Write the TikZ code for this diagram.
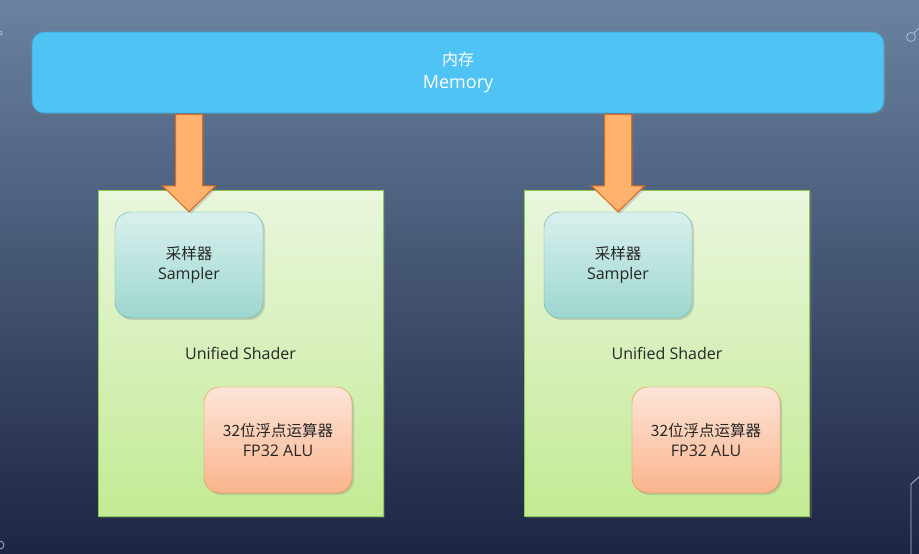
\documentclass[tikz,border=0pt]{standalone}
\usepackage{fontspec}
\setmainfont{Open Sans}
\newfontfamily\cjk{Noto Sans CJK SC}
\usepackage{tikz}
\usetikzlibrary{shadows}
\usetikzlibrary{calc}

\definecolor{bgtop}{HTML}{6A83A0}
\definecolor{bgmid}{HTML}{47597A}
\definecolor{bgbot}{HTML}{1D2542}
\definecolor{memfill}{HTML}{4FC3F3}
\definecolor{memline}{HTML}{3BA6D6}
\definecolor{shtop}{HTML}{EAF6DE}
\definecolor{shbot}{HTML}{C3EA94}
\definecolor{shline}{HTML}{8CC94F}
\definecolor{smtop}{HTML}{D9F0EE}
\definecolor{smbot}{HTML}{9DD7CF}
\definecolor{smline}{HTML}{55B2A7}
\definecolor{alutop}{HTML}{FDE5D9}
\definecolor{alubot}{HTML}{FBB48D}
\definecolor{aluline}{HTML}{E38A3A}
\definecolor{feedfill}{HTML}{FFB26E}
\definecolor{feedline}{HTML}{D8691E}
\definecolor{decor}{HTML}{A9BCD6}

\tikzset{
  memory/.style = {rounded corners=12pt, fill=memfill, draw=memline, thick,
    minimum width=852pt, minimum height=81pt, text=white,
    drop shadow={opacity=0.35, shadow xshift=2pt, shadow yshift=-2pt}},
  shader/.style = {draw=shline, top color=shtop, bottom color=shbot,
    minimum width=285pt, minimum height=326pt,
    drop shadow={opacity=0.35, shadow xshift=2pt, shadow yshift=-2pt}},
  sampler/.style = {rounded corners=16pt, draw=smline, top color=smtop, bottom color=smbot,
    minimum width=148pt, minimum height=106pt,
    drop shadow={opacity=0.3, shadow xshift=2pt, shadow yshift=-2pt}},
  alu/.style = {rounded corners=16pt, draw=aluline, top color=alutop, bottom color=alubot,
    minimum width=148pt, minimum height=106pt,
    drop shadow={opacity=0.3, shadow xshift=2pt, shadow yshift=-2pt}},
  feed/.style = {fill=feedfill, draw=feedline, line width=1pt, line join=miter,
    drop shadow={opacity=0.3, shadow xshift=2pt, shadow yshift=-2pt}}
}

\begin{document}
\begin{tikzpicture}[x=1pt,y=-1pt]
	\shade[top color=bgtop, middle color=bgmid, bottom color=bgbot] (0,0) rectangle (919,554);
	\useasboundingbox (0,0) rectangle (919,554);
	% frame ornaments
	\draw[decor, thick] (911,37) circle (4.5);
	\draw[decor, thick] (914,33) -- (919,28);
	\draw[decor, thick] (0,33) circle (2);
	\draw[decor, thick] (0,545) circle (4);
	\draw[decor, thick] (911,554) -- (911,484) -- (919,477);
	\begin{scope}[every node/.style = {align=center, text=black!85,
			font=\fontsize{16}{19.5}\selectfont}]
		\node[shader] (L) at (240.5,353) {Unified Shader};
		\node[shader] (R) at (667,353) {Unified Shader};
		\node[sampler] (sl) at (189,265) {{\cjk\fontsize{15.5}{19.5}\selectfont 采样器}\\Sampler};
		\node[sampler] (sr) at (618,265) {{\cjk\fontsize{15.5}{19.5}\selectfont 采样器}\\Sampler};
		\node[alu] (al) at (278,440) {{\cjk\fontsize{15.5}{19.5}\selectfont 32位浮点运算器}\\FP32 ALU};
		\node[alu] (ar) at (706,440) {{\cjk\fontsize{15.5}{19.5}\selectfont 32位浮点运算器}\\FP32 ALU};
		\node[memory, font=\fontsize{18}{23}\selectfont] (mem) at (458,72.5)
			{{\cjk\fontsize{16}{23}\selectfont 内存}\\Memory};
	\end{scope}
	% memory feeds
	\foreach \s in {sl,sr} {
		\coordinate (top) at (mem.south -| \s.north);
		\draw[feed] ($(top)+(-13.5,1)$) -- ($(\s.north)+(-13.5,-26)$)
			-- ($(\s.north)+(-26.5,-26)$) -- (\s.north)
			-- ($(\s.north)+(26.5,-26)$) -- ($(\s.north)+(13.5,-26)$)
			-- ($(top)+(13.5,1)$) -- cycle;
	}
\end{tikzpicture}
\end{document}
